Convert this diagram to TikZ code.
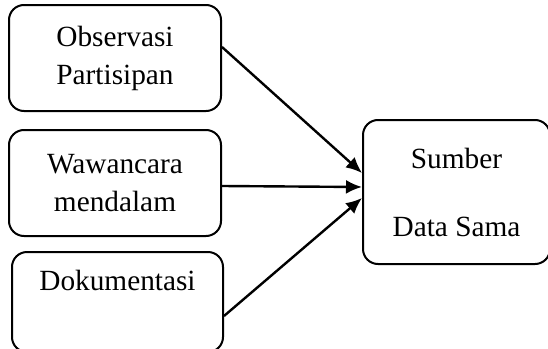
\documentclass[tikz,border=0pt]{standalone}
\usepackage{fontspec}
\setmainfont{Liberation Serif}
\usetikzlibrary{arrows.meta}
\begin{document}
\begin{tikzpicture}[x=1pt,y=-1pt,
  box/.style={draw,line width=2pt,rounded corners=15pt,align=center,
    inner sep=0pt,font=\fontsize{29.3}{38}\selectfont},
  conn/.style={line width=2.4pt,-{Latex[length=16pt,width=14pt]}}]
\useasboundingbox (0,0) rectangle (548,348);
\clip (0,0) rectangle (548,348);
\node[box,minimum width=212pt,minimum height=106pt] (obs) at (115,58) {Observasi\\Partisipan};
\node[box,minimum width=212pt,minimum height=106pt] (waw) at (115,183) {Wawancara\\mendalam};
\node[box,minimum width=211pt,minimum height=100pt] (dok) at (117.5,302) {Dokumentasi\\[6pt]\mbox{}};
\node[box,minimum width=187pt,minimum height=144pt] (sum) at (456.5,192) {Sumber\\[30pt]Data Sama};
\draw[conn] ([yshift=11pt]obs.east) -- ([yshift=19pt]sum.west);
\draw[conn] ([yshift=-3pt]waw.east) -- ([yshift=5pt]sum.west);
\draw[conn] ([yshift=-14pt]dok.east) -- ([yshift=-6pt]sum.west);
\end{tikzpicture}
\end{document}
